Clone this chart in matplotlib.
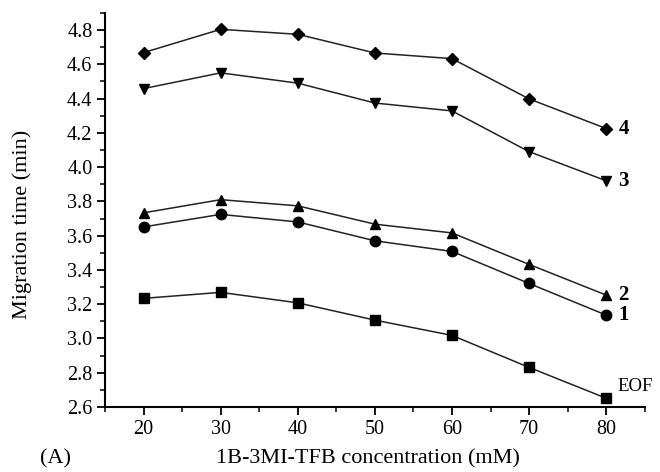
import matplotlib
matplotlib.use('Agg')
import matplotlib.pyplot as plt
from matplotlib.ticker import MultipleLocator

plt.rcParams['font.family'] = ['Liberation Serif', 'DejaVu Serif']

conc = [20, 30, 40, 50, 60, 70, 80]
eof = [3.234, 3.269, 3.208, 3.107, 3.018, 2.831, 2.651]
s1 = [3.651, 3.724, 3.680, 3.570, 3.508, 3.321, 3.136]
s2 = [3.733, 3.810, 3.774, 3.667, 3.616, 3.432, 3.253]
s3 = [4.458, 4.550, 4.490, 4.374, 4.328, 4.090, 3.920]
s4 = [4.668, 4.804, 4.775, 4.666, 4.633, 4.398, 4.225]

series = [(eof, 's', 'EOF'), (s1, 'o', '1'), (s2, '^', '2'), (s3, 'v', '3'), (s4, 'D', '4')]

fig = plt.figure(figsize=(6.6, 4.72), dpi=100)
ax = fig.add_axes([0.159, 0.1377, 0.818, 0.835])

for vals, mk, lab in series:
    ms = 6.5 if mk == 'D' else 7.5
    ax.plot(conc, vals, color='#222222', lw=1.1, marker=mk, ms=ms,
            markerfacecolor='black', markeredgecolor='black')
    if lab == 'EOF':
        ax.text(81.5, vals[-1] + 0.068, lab, fontsize=13.5, va='center', ha='left')
    else:
        ax.text(81.6, vals[-1], lab, fontsize=15, fontweight='bold', va='center', ha='left')

ax.set_xlim(15, 85)
ax.set_ylim(2.6, 4.9)
ax.xaxis.set_major_locator(MultipleLocator(10))
ax.xaxis.set_minor_locator(MultipleLocator(5))
ax.yaxis.set_major_locator(MultipleLocator(0.2))
ax.yaxis.set_minor_locator(MultipleLocator(0.1))
ax.yaxis.set_major_formatter(plt.FormatStrFormatter('%.1f'))
ax.spines['top'].set_visible(False)
ax.spines['right'].set_visible(False)
ax.spines['left'].set_linewidth(1.5)
ax.spines['bottom'].set_linewidth(1.5)
ax.tick_params(which='major', direction='out', length=6, width=1.3, labelsize=14.5, pad=3)
ax.tick_params(which='minor', direction='out', length=3.5, width=1.1)

ax.set_ylabel('Migration time (min)', fontsize=16)
ax.yaxis.set_label_coords(-0.135, 0.464)
ax.set_xlabel('1B-3MI-TFB concentration (mM)', fontsize=16)
ax.xaxis.set_label_coords(0.487, -0.108)
fig.text(0.06, 0.027, '(A)', fontsize=16, va='center')

fig.savefig('out.png', dpi=100)
